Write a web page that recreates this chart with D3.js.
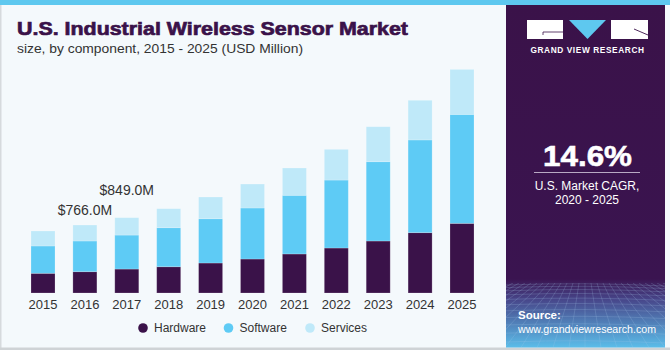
<!DOCTYPE html>
<html><head><meta charset="utf-8">
<script src="https://cdn.jsdelivr.net/npm/d3@7"></script>
<style>
html,body{margin:0;padding:0;background:#fff;}
svg{display:block;font-family:"Liberation Sans",Arial,sans-serif;}
</style></head>
<body>
<script>
const years = ["2015","2016","2017","2018","2019","2020","2021","2022","2023","2024","2025"];
const hardware = [222,240,270,296,338,383,440,507,586,680,785];
const software = [308,346,383,440,499,575,661,766,894,1045,1228];
const services = [169,180,196,214,245,270,308,346,394,447,507];
const seriesNames = ["Hardware","Software","Services"];
const seriesColors = ["#3a1249","#5ecbf5","#bfe9f9"];
const annotations = [{year:"2016",label:"$766.0M",dy:10},{year:"2017",label:"$849.0M",dy:23}];
const cagr = "14.6%";

const W=670,H=350;
const svg=d3.select("body").append("svg").attr("width",W).attr("height",H);

// background
svg.append("rect").attr("width",W).attr("height",H).attr("fill","#f4f9fc");
svg.append("rect").attr("x",0).attr("y",0).attr("width",1.5).attr("height",H).attr("fill","#d6dadd");
svg.append("rect").attr("x",0).attr("y",347.5).attr("width",W).attr("height",2.5).attr("fill","#cfd3d6");
svg.append("rect").attr("x",0).attr("y",0).attr("width",W).attr("height",5).attr("fill","#5ec8ef");

// right panel
const defs=svg.append("defs");
const g1=defs.append("linearGradient").attr("id","pg").attr("x1",0).attr("y1",0).attr("x2",0).attr("y2",1);
g1.append("stop").attr("offset","0").attr("stop-color","#3a1249");
g1.append("stop").attr("offset","0.80").attr("stop-color","#3a1450");
g1.append("stop").attr("offset","0.86").attr("stop-color","#47468a");
g1.append("stop").attr("offset","1").attr("stop-color","#5bbde9");
const px0=506,px1=665,py0=5,py1=347.5;
svg.append("rect").attr("x",px0).attr("y",py0).attr("width",px1-px0).attr("height",py1-py0).attr("fill","url(#pg)");
// decorative grid in source area
const grid=svg.append("g").attr("stroke","#a9c9ee").attr("stroke-opacity",0.35).attr("stroke-width",0.6).attr("fill","none");
const clip=defs.append("clipPath").attr("id","pc");
clip.append("rect").attr("x",px0).attr("y",283).attr("width",px1-px0).attr("height",py1-283);
grid.attr("clip-path","url(#pc)");
for(let i=0;i<14;i++){
  const y=285+i*i*0.35+i*2.2;
  grid.append("path").attr("d",`M${px0},${y} Q${(px0+px1)/2},${y-3} ${px1},${y+1}`);
}
for(let i=-12;i<=24;i++){
  const xt=585+i*6, xb=585+i*16;
  grid.append("line").attr("x1",xt).attr("y1",283).attr("x2",xb).attr("y2",py1);
}

// logo
const lg=svg.append("g");
lg.append("rect").attr("x",527).attr("y",20).attr("width",36).attr("height",19).attr("fill","#fff");
lg.append("path").attr("d","M543,35 L543,32 L563,32").attr("stroke","#3a1249").attr("stroke-width",0.8).attr("fill","none");
lg.append("path").attr("d","M569,20 L606,20 L587.5,39 Z").attr("fill","#5ec8ef");
lg.append("rect").attr("x",611).attr("y",20).attr("width",37).attr("height",19).attr("fill","#fff");
lg.append("path").attr("d","M634,29 L648,35").attr("stroke","#3a1249").attr("stroke-width",0.9);
lg.append("text").attr("x",587.5).attr("y",53).attr("text-anchor","middle").attr("fill","#fff")
  .attr("font-size",8.3).attr("font-weight","bold").attr("letter-spacing",0.6).text("GRAND VIEW RESEARCH");

// CAGR
svg.append("text").attr("x",543).attr("y",166).attr("fill","#fff")
  .attr("font-size",30).attr("font-weight","bold").attr("stroke","#fff").attr("stroke-width",0.6)
  .attr("textLength",89).attr("lengthAdjust","spacingAndGlyphs").text(cagr);
svg.append("line").attr("x1",534).attr("x2",640).attr("y1",172.5).attr("y2",172.5).attr("stroke","#b9a9c4").attr("stroke-width",1);
svg.append("text").attr("x",587).attr("y",190).attr("text-anchor","middle").attr("fill","#fff").attr("font-size",12).text("U.S. Market CAGR,");
svg.append("text").attr("x",587).attr("y",204).attr("text-anchor","middle").attr("fill","#fff").attr("font-size",12).text("2020 - 2025");

// Source
svg.append("text").attr("x",518).attr("y",319).attr("fill","#fff").attr("font-size",11.5).attr("font-weight","bold").text("Source:");
svg.append("text").attr("x",518).attr("y",333).attr("fill","#fff").attr("font-size",11.5)
  .attr("textLength",138).attr("lengthAdjust","spacingAndGlyphs").text("www.grandviewresearch.com");

// Title
svg.append("text").attr("x",17).attr("y",35).attr("fill","#3a1249").attr("font-size",19).attr("font-weight","bold")
  .attr("stroke","#3a1249").attr("stroke-width",0.7)
  .attr("textLength",391).attr("lengthAdjust","spacingAndGlyphs").text("U.S. Industrial Wireless Sensor Market");
svg.append("text").attr("x",17).attr("y",53).attr("fill","#333").attr("font-size",13)
  .attr("textLength",286).attr("lengthAdjust","spacingAndGlyphs").text("size, by component, 2015 - 2025 (USD Million)");

// chart
const x=d3.scaleBand().domain(years).range([22.05,482.95]).paddingInner(0.427).paddingOuter(0.2135);
const y=d3.scaleLinear().domain([0,2800]).range([293,293-2800/11.27]);
const data=years.map((yr,i)=>({year:yr,Hardware:hardware[i],Software:software[i],Services:services[i]}));
const stack=d3.stack().keys(seriesNames)(data);
const color=d3.scaleOrdinal().domain(seriesNames).range(seriesColors);
svg.append("g").selectAll("g").data(stack).join("g").attr("fill",d=>color(d.key))
  .selectAll("rect").data(d=>d).join("rect")
  .attr("x",d=>x(d.data.year)).attr("width",x.bandwidth())
  .attr("y",d=>y(d[1])).attr("height",d=>y(d[0])-y(d[1]))
  .attr("stroke","#ffffff").attr("stroke-opacity",0.25).attr("stroke-width",0.8);

const ax=svg.append("g").attr("transform","translate(0,293)").call(d3.axisBottom(x).tickSize(0).tickPadding(5));
ax.select(".domain").remove();
ax.selectAll("text").attr("font-size",13).attr("fill","#333").attr("font-family","Liberation Sans,Arial,sans-serif").attr("dy","0.85em");

// annotations
const totals=years.map((yr,i)=>hardware[i]+software[i]+services[i]);
annotations.forEach(a=>{
  const i=years.indexOf(a.year);
  svg.append("text").attr("x",x(a.year)+x.bandwidth()/2).attr("y",y(totals[i])-a.dy)
    .attr("text-anchor","middle").attr("fill","#333").attr("font-size",14).text(a.label);
});

// legend
const legX=[143,228.5,310];
const lgd=svg.append("g");
seriesNames.forEach((s,i)=>{
  lgd.append("circle").attr("cx",legX[i]).attr("cy",328).attr("r",4.8).attr("fill",seriesColors[i]);
  lgd.append("text").attr("x",legX[i]+11).attr("y",332.3).attr("fill","#333").attr("font-size",12).text(s);
});
</script>
</body></html>
